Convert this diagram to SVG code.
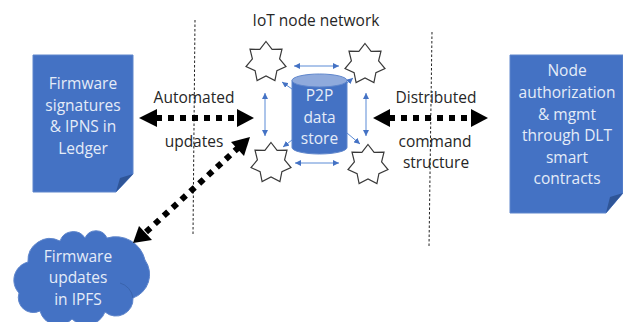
<svg xmlns="http://www.w3.org/2000/svg" width="623" height="322" viewBox="0 0 623 322">
<style>
text{font-family:"Open Sans","Noto Sans","Liberation Sans",sans-serif;font-size:15.5px;text-anchor:middle}
.w{fill:#e4ecf8}
.k{fill:#262626}
.b{fill:#4472c4;stroke:#5f86cc;stroke-width:1}
.f{fill:#2f5597}
.c{fill:none;stroke:#3a64ad;stroke-width:1}
.d{fill:none;stroke:#222;stroke-width:1;stroke-dasharray:2.5 2}
.t{fill:none;stroke:#000;stroke-width:6;stroke-dasharray:6 6}
.s{fill:none;stroke:#5b8bd6;stroke-width:1;marker-start:url(#sa);marker-end:url(#se)}
.star{fill:#fff;stroke:#3a3a3a;stroke-width:1.2}
</style>
<defs>
<marker id="se" markerUnits="userSpaceOnUse" markerWidth="7" markerHeight="6" refX="6" refY="3" orient="auto"><path d="M0 0L6 3L0 6z" fill="#4472c4"/></marker>
<marker id="sa" markerUnits="userSpaceOnUse" markerWidth="7" markerHeight="6" refX="0" refY="3" orient="auto"><path d="M6 0L0 3L6 6z" fill="#4472c4"/></marker>
<path id="st" d="M0 -20.500L6.100 -12.600L16 -12.800L13.600 -3.100L20 4.600L10.900 8.700L8.900 18.500L0 14L-8.900 18.500L-10.900 8.700L-20 4.600L-13.600 -3.100L-16 -12.800L-6.100 -12.600Z"/>
</defs>
<g id="title"><text class="k" x="316" y="26">IoT node network</text></g>
<g id="ledger">
<path class="b" d="M33 55H133V174L116 192H33Z"/>
<path class="f" d="M133 174L116 192L120 178Z"/>
<text class="w" x="83" y="89">Firmware</text>
<text class="w" x="83" y="111">signatures</text>
<text class="w" x="83" y="132">&amp; IPNS in</text>
<text class="w" x="83" y="154">Ledger</text>
</g>
<g id="dlt">
<path class="b" d="M510 55H623V193L606 213H510Z"/>
<path class="f" d="M623 193L606 213L610 197Z"/>
<text class="w" x="567" y="76">Node</text>
<text class="w" x="567" y="98">authorization</text>
<text class="w" x="567" y="120">&amp; mgmt</text>
<text class="w" x="567" y="141">through DLT</text>
<text class="w" x="567" y="163">smart</text>
<text class="w" x="567" y="184">contracts</text>
</g>
<g id="ipfs">
<path class="b" d="M28 262A22 22 0 0 1 60 241A14 14 0 0 1 85 238A12 12 0 0 1 107 238A30 30 0 0 1 145 260A25 25 0 0 1 133 298A17 17 0 0 1 105 312A20 20 0 0 1 72 319A19 19 0 0 1 40 311A15 15 0 0 1 19 293A18.700 18.700 0 0 1 28 262Z"/>
<path class="c" d="M120 283A18 18 0 0 1 133 298"/>
<text class="w" x="78" y="262">Firmware</text>
<text class="w" x="78" y="283">updates</text>
<text class="w" x="78" y="305">in IPFS</text>
</g>
<g id="store">
<path class="b" d="M292 80.500V147.500A27.500 6.500 0 0 0 347 147.500V80.500Z"/>
<ellipse cx="319.500" cy="80.500" rx="27.500" ry="6.500" fill="#8faadc" stroke="#5f86cc"/>
<text class="w" x="319.500" y="101">P2P</text>
<text class="w" x="319.500" y="123">data</text>
<text class="w" x="319.500" y="144">store</text>
</g>
<g id="node-1"><use href="#st" class="star" x="266" y="62"/></g>
<g id="node-2"><use href="#st" class="star" x="365" y="64"/></g>
<g id="node-3"><use href="#st" class="star" x="271" y="163"/></g>
<g id="node-4"><use href="#st" class="star" x="368" y="165"/></g>
<g id="labels">
<text class="k" x="194" y="103">Automated</text>
<text class="k" x="194" y="147">updates</text>
<text class="k" x="436" y="103">Distributed</text>
<text class="k" x="435" y="147">command</text>
<text class="k" x="436" y="168">structure</text>
</g>
<g id="connectors">
<line class="d" x1="195" y1="20" x2="193" y2="235"/>
<line class="d" x1="432" y1="32" x2="429" y2="247"/>
<line class="t" x1="156" y1="118" x2="238" y2="118"/>
<path d="M139 118L157 109V127Z"/><path d="M254 118L237 109V127Z"/>
<line class="t" x1="389" y1="118" x2="472" y2="118"/>
<path d="M373 118L390 109V127Z"/><path d="M488 118L471 109V127Z"/>
<line class="t" x1="146" y1="232" x2="238" y2="148"/>
<path d="M250 137L231 142L244 156Z"/><path d="M133 243L139 226L152 240Z"/>
<line class="s" x1="294" y1="66" x2="339" y2="66"/>
<line class="s" x1="295" y1="163" x2="339" y2="163"/>
<line class="s" x1="265" y1="93" x2="265" y2="136"/>
<line class="s" x1="366" y1="93" x2="366" y2="136"/>
<line class="s" x1="292" y1="89" x2="282" y2="82" style="marker-start:none"/>
<line class="s" x1="347" y1="83" x2="353" y2="78" style="marker-start:none"/>
<line class="s" x1="292" y1="140" x2="283" y2="147" style="marker-start:none"/>
<line class="s" x1="347" y1="133" x2="360" y2="144" style="marker-start:none"/>
</g>
</svg>
